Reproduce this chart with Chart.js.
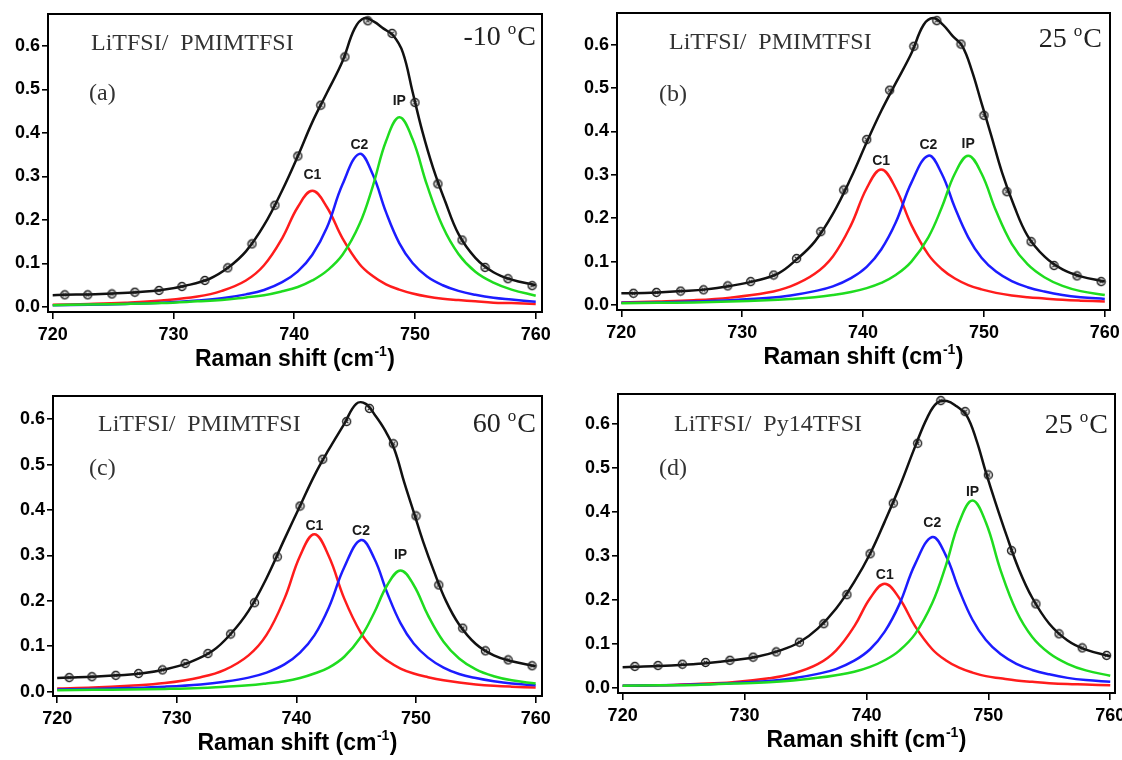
<!DOCTYPE html>
<html>
<head>
<meta charset="utf-8">
<title>Raman spectra of LiTFSI in ionic liquids</title>
<script src="https://cdn.jsdelivr.net/npm/chart.js@4.4.1/dist/chart.umd.min.js"></script>
<style>
  html, body { margin: 0; padding: 0; background: #ffffff; }
  #fig { position: relative; width: 1122px; height: 760px; overflow: hidden; background: #ffffff; }
  #fig canvas { position: absolute; }
</style>
</head>
<body>
<div id="fig">
  <canvas id="pa" width="561" height="380" style="left:0px;top:0px"></canvas>
  <canvas id="pb" width="561" height="380" style="left:561px;top:0px"></canvas>
  <canvas id="pc" width="561" height="380" style="left:0px;top:380px"></canvas>
  <canvas id="pd" width="561" height="380" style="left:561px;top:380px"></canvas>
</div>
<script>
// ---- axis ticks ----
const shiftTicks = [720, 730, 740, 750, 760];
const intensityTicks = [0, 0.1, 0.2, 0.3, 0.4, 0.5, 0.6];

// ---- Raman shift grids (cm-1) ----
const bandShift = [720, 723, 726, 729, 732, 734, 736, 737.5, 739, 740.3, 741.5, 742.7, 744, 745.4,
                   746.5, 747.6, 748.7, 749.8, 751, 752.3, 753.6, 755, 756.5, 758, 760];
const fitShift = [720, 721, 723, 725, 727, 729, 731, 733, 734.5, 736, 737.5, 739, 740.3, 741.5, 742.7,
                  744, 745, 745.8, 746.6, 747.4, 748.2, 749, 749.8, 750.6, 751.5, 752.5, 753.6, 755,
                  756.5, 758, 760];
const measuredShift = [721.0, 722.9, 724.9, 726.8, 728.8, 730.7, 732.6, 734.5, 736.5, 738.4, 740.3,
                       742.2, 744.2, 746.1, 748.1, 750.0, 751.9, 753.9, 755.8, 757.7, 759.7];

// ---- (a) LiTFSI/PMIMTFSI, -10 C ----
const c1A = [0.005, 0.007, 0.010, 0.015, 0.024, 0.037, 0.061, 0.096, 0.158, 0.230, 0.267, 0.230, 0.158,
             0.099, 0.071, 0.052, 0.040, 0.031, 0.024, 0.019, 0.016, 0.013, 0.010, 0.009, 0.007];
const c2A = [0.004, 0.005, 0.007, 0.010, 0.015, 0.020, 0.029, 0.039, 0.057, 0.082, 0.120, 0.182, 0.282,
             0.352, 0.305, 0.218, 0.147, 0.101, 0.070, 0.050, 0.037, 0.028, 0.021, 0.017, 0.012];
const ipA = [0.004, 0.006, 0.007, 0.009, 0.013, 0.016, 0.022, 0.027, 0.036, 0.046, 0.061, 0.083, 0.120,
             0.190, 0.277, 0.381, 0.436, 0.386, 0.280, 0.185, 0.122, 0.081, 0.056, 0.040, 0.026];
const fitA = [0.027, 0.028, 0.029, 0.031, 0.034, 0.039, 0.049, 0.065, 0.090, 0.128, 0.188, 0.268, 0.347,
              0.425, 0.492, 0.565, 0.640, 0.664, 0.656, 0.640, 0.624, 0.585, 0.495, 0.405, 0.320, 0.243,
              0.168, 0.113, 0.080, 0.063, 0.050];
const measA = [0.028, 0.028, 0.030, 0.034, 0.038, 0.047, 0.061, 0.090, 0.145, 0.234, 0.347, 0.464, 0.575,
               0.658, 0.629, 0.470, 0.283, 0.154, 0.091, 0.065, 0.049];

// ---- (b) LiTFSI/PMIMTFSI, 25 C ----
const c1B = [0.006, 0.008, 0.011, 0.017, 0.028, 0.043, 0.072, 0.112, 0.184, 0.269, 0.312, 0.269, 0.184,
             0.116, 0.083, 0.061, 0.046, 0.036, 0.028, 0.022, 0.018, 0.015, 0.012, 0.010, 0.008];
const c2B = [0.005, 0.006, 0.008, 0.011, 0.016, 0.022, 0.032, 0.043, 0.062, 0.088, 0.128, 0.190, 0.282,
             0.344, 0.303, 0.224, 0.156, 0.109, 0.077, 0.055, 0.041, 0.031, 0.023, 0.018, 0.014];
const ipB = [0.004, 0.005, 0.006, 0.008, 0.011, 0.014, 0.018, 0.023, 0.030, 0.039, 0.051, 0.069, 0.100,
             0.156, 0.224, 0.303, 0.344, 0.303, 0.217, 0.141, 0.094, 0.064, 0.044, 0.032, 0.023];
const fitB = [0.027, 0.027, 0.029, 0.032, 0.036, 0.044, 0.055, 0.073, 0.105, 0.146, 0.210, 0.293, 0.375,
              0.447, 0.511, 0.580, 0.645, 0.661, 0.646, 0.620, 0.597, 0.540, 0.465, 0.391, 0.305, 0.228,
              0.160, 0.112, 0.082, 0.066, 0.054];
const measB = [0.027, 0.029, 0.032, 0.035, 0.044, 0.054, 0.069, 0.107, 0.169, 0.265, 0.381, 0.495, 0.596,
               0.655, 0.601, 0.437, 0.261, 0.146, 0.091, 0.067, 0.054];

// ---- (c) LiTFSI/PMIMTFSI, 60 C ----
const c1C = [0.007, 0.009, 0.013, 0.019, 0.032, 0.048, 0.080, 0.125, 0.205, 0.299, 0.347, 0.299, 0.205,
             0.129, 0.092, 0.068, 0.051, 0.040, 0.032, 0.025, 0.020, 0.016, 0.013, 0.011, 0.009];
const c2C = [0.005, 0.006, 0.008, 0.011, 0.016, 0.022, 0.031, 0.042, 0.060, 0.086, 0.124, 0.185, 0.274,
             0.334, 0.294, 0.217, 0.151, 0.106, 0.075, 0.053, 0.039, 0.030, 0.023, 0.018, 0.014];
const ipC = [0.003, 0.004, 0.005, 0.006, 0.008, 0.011, 0.014, 0.018, 0.023, 0.030, 0.040, 0.053, 0.077,
             0.121, 0.174, 0.235, 0.267, 0.235, 0.168, 0.110, 0.073, 0.049, 0.034, 0.025, 0.018];
const fitC = [0.030, 0.031, 0.033, 0.036, 0.040, 0.049, 0.064, 0.090, 0.127, 0.178, 0.250, 0.336, 0.409,
              0.476, 0.533, 0.590, 0.634, 0.634, 0.608, 0.576, 0.533, 0.462, 0.396, 0.330, 0.265, 0.200,
              0.148, 0.105, 0.080, 0.067, 0.056];
const measC = [0.031, 0.033, 0.036, 0.040, 0.048, 0.062, 0.084, 0.127, 0.196, 0.297, 0.409, 0.512, 0.595,
               0.624, 0.546, 0.387, 0.235, 0.140, 0.090, 0.070, 0.057];

// ---- (d) LiTFSI/Py14TFSI, 25 C ----
const c1D = [0.005, 0.006, 0.009, 0.013, 0.022, 0.033, 0.054, 0.085, 0.140, 0.204, 0.237, 0.204, 0.140,
             0.088, 0.063, 0.046, 0.035, 0.027, 0.022, 0.017, 0.014, 0.011, 0.009, 0.008, 0.006];
const c2D = [0.005, 0.006, 0.008, 0.011, 0.016, 0.022, 0.032, 0.043, 0.062, 0.088, 0.128, 0.190, 0.282,
             0.343, 0.302, 0.223, 0.155, 0.109, 0.077, 0.055, 0.041, 0.031, 0.023, 0.018, 0.014];
const ipD = [0.005, 0.006, 0.007, 0.010, 0.013, 0.017, 0.023, 0.029, 0.037, 0.048, 0.063, 0.085, 0.123,
             0.193, 0.277, 0.376, 0.426, 0.376, 0.268, 0.175, 0.116, 0.079, 0.055, 0.040, 0.028];
const fitD = [0.047, 0.048, 0.050, 0.053, 0.057, 0.063, 0.071, 0.086, 0.104, 0.135, 0.180, 0.241, 0.305,
              0.378, 0.456, 0.549, 0.615, 0.648, 0.652, 0.640, 0.620, 0.565, 0.490, 0.420, 0.346, 0.270,
              0.205, 0.146, 0.108, 0.087, 0.072];
const measD = [0.049, 0.051, 0.054, 0.058, 0.063, 0.070, 0.082, 0.104, 0.146, 0.212, 0.305, 0.420, 0.556,
               0.653, 0.628, 0.484, 0.312, 0.191, 0.123, 0.091, 0.074];

const bandNames = ['C1', 'C2', 'IP'];

// ---- panel layout and annotation styles (canvas pixels) ----
const panels = [
  { canvas: 'pa', salt: 'LiTFSI/  PMIMTFSI', tag: '(a)', temp: '-10 ',
    bands: [c1A, c2A, ipA], fit: fitA, meas: measA,
    area: { left: 48, top: 14, right: 542, bottom: 312 },
    xRange: [719.61, 760.52], yRange: [-0.0115, 0.6736],
    saltAt: [91, 50], tagAt: [89, 100], tempRight: 536, tempBase: 45,
    lift: [16, 9, 16], captionY: 360 },
  { canvas: 'pb', salt: 'LiTFSI/  PMIMTFSI', tag: '(b)', temp: '25 ',
    bands: [c1B, c2B, ipB], fit: fitB, meas: measB,
    area: { left: 56, top: 13, right: 549, bottom: 310 },
    xRange: [719.64, 760.43], yRange: [-0.0115, 0.6727],
    saltAt: [108, 49], tagAt: [98, 101], tempRight: 541, tempBase: 47,
    lift: [8, 11, 12], captionY: 358 },
  { canvas: 'pc', salt: 'LiTFSI/  PMIMTFSI', tag: '(c)', temp: '60 ',
    bands: [c1C, c2C, ipC], fit: fitC, meas: measC,
    area: { left: 53, top: 16, right: 542, bottom: 316 },
    xRange: [719.65, 760.53], yRange: [-0.0095, 0.6513],
    saltAt: [98, 51], tagAt: [89, 95], tempRight: 536, tempBase: 52,
    lift: [8, 9, 15], captionY: 364 },
  { canvas: 'pd', salt: 'LiTFSI/  Py14TFSI', tag: '(d)', temp: '25 ',
    bands: [c1D, c2D, ipD], fit: fitD, meas: measD,
    area: { left: 57, top: 14, right: 554, bottom: 313 },
    xRange: [719.62, 760.39], yRange: [-0.0114, 0.668],
    saltAt: [113, 51], tagAt: [98, 95], tempRight: 547, tempBase: 53,
    lift: [9, 14, 8], captionY: 361 }
];

const bandColors = ['#ff1c1c', '#1c1cff', '#1fdc1f'];
const SANS = "'Liberation Sans', Arial, sans-serif";
const SERIF = "'Liberation Serif', 'Times New Roman', serif";

// open circle with a cross, used for the measured spectrum
function measuredGlyph() {
  const c = document.createElement('canvas');
  c.width = 11; c.height = 11;
  const g = c.getContext('2d');
  g.strokeStyle = '#1e1e1e';
  g.lineWidth = 1.4;
  g.beginPath(); g.arc(5.5, 5.5, 4, 0, Math.PI * 2); g.stroke();
  g.lineWidth = 1.1;
  g.beginPath();
  g.moveTo(3.6, 3.6); g.lineTo(7.4, 7.4);
  g.moveTo(7.4, 3.6); g.lineTo(3.6, 7.4);
  g.stroke();
  return c;
}
const glyph = measuredGlyph();

const pairs = (xs, ys) => xs.map((x, i) => ({ x: x, y: ys[i] }));

// closed frame around the plotting area
const framePlugin = {
  id: 'frame',
  afterDatasetsDraw(chart) {
    const a = chart.chartArea, ctx = chart.ctx;
    ctx.save();
    ctx.strokeStyle = '#000';
    ctx.lineWidth = 2;
    ctx.strokeRect(a.left, a.top, a.right - a.left, a.bottom - a.top);
    ctx.restore();
  }
};

// sample labels, band names and axis caption
const textPlugin = {
  id: 'panelText',
  afterDraw(chart) {
    const p = chart.options.plugins.panelText.panel;
    const ctx = chart.ctx, a = chart.chartArea;
    const xs = chart.scales.x, ys = chart.scales.y;
    ctx.save();

    ctx.fillStyle = '#333';
    ctx.textBaseline = 'alphabetic';
    ctx.textAlign = 'left';
    ctx.font = '24px ' + SERIF;
    ctx.fillText(p.salt, p.saltAt[0], p.saltAt[1]);
    ctx.fillText(p.tag, p.tagAt[0], p.tagAt[1]);

    // temperature with raised degree mark
    ctx.fillStyle = '#222';
    const big = '28px ' + SERIF, small = '17px ' + SERIF;
    ctx.font = big;
    const wMain = ctx.measureText(p.temp).width;
    const wC = ctx.measureText('C').width;
    ctx.font = small;
    const wO = ctx.measureText('o').width;
    let x0 = p.tempRight - (wMain + wO + wC + 1);
    ctx.font = big;
    ctx.fillText(p.temp, x0, p.tempBase);
    ctx.font = small;
    ctx.fillText('o', x0 + wMain, p.tempBase - 11);
    ctx.font = big;
    ctx.fillText('C', x0 + wMain + wO + 1, p.tempBase);

    // band labels above each component maximum
    ctx.fillStyle = '#1a1a1a';
    ctx.font = 'bold 14px ' + SANS;
    ctx.textAlign = 'center';
    ctx.textBaseline = 'middle';
    p.bands.forEach((vals, k) => {
      let im = 0;
      vals.forEach((v, i) => { if (v > vals[im]) im = i; });
      const px = xs.getPixelForValue(bandShift[im]);
      const py = ys.getPixelForValue(vals[im]) - p.lift[k];
      ctx.fillText(bandNames[k], px, py);
    });

    // x-axis caption with superscript
    const capBig = 'bold 23px ' + SANS, capSmall = 'bold 14px ' + SANS;
    const s1 = 'Raman shift (cm', s2 = '-1', s3 = ')';
    ctx.font = capBig;
    const w1 = ctx.measureText(s1).width, w3 = ctx.measureText(s3).width;
    ctx.font = capSmall;
    const w2 = ctx.measureText(s2).width;
    const cx = (a.left + a.right) / 2;
    let sx = cx - (w1 + w2 + w3 + 1) / 2;
    ctx.fillStyle = '#000';
    ctx.textAlign = 'left';
    ctx.textBaseline = 'middle';
    ctx.font = capBig;
    ctx.fillText(s1, sx, p.captionY);
    ctx.font = capSmall;
    ctx.fillText(s2, sx + w1 + 0.5, p.captionY - 8);
    ctx.font = capBig;
    ctx.fillText(s3, sx + w1 + w2 + 1, p.captionY);
    ctx.restore();
  }
};

panels.forEach(p => {
  const cv = document.getElementById(p.canvas);
  const W = cv.width, H = cv.height;
  const datasets = [
    { data: pairs(measuredShift, p.meas), showLine: false, pointStyle: glyph, pointRadius: 4,
      pointHoverRadius: 4 },
    { data: pairs(fitShift, p.fit), borderColor: '#111111', borderWidth: 2.5, pointRadius: 0,
      tension: 0.4, fill: false }
  ];
  [2, 1, 0].forEach(k => {
    datasets.push({ data: pairs(bandShift, p.bands[k]), borderColor: bandColors[k], borderWidth: 2.5,
      pointRadius: 0, tension: 0.4, fill: false });
  });

  new Chart(cv, {
    type: 'line',
    data: { datasets: datasets },
    options: {
      responsive: false,
      animation: false,
      events: [],
      layout: { padding: { left: 0, top: p.area.top, right: W - p.area.right, bottom: 0 } },
      plugins: {
        legend: { display: false },
        tooltip: { enabled: false },
        panelText: { panel: p }
      },
      scales: {
        x: {
          type: 'linear',
          min: p.xRange[0], max: p.xRange[1],
          afterBuildTicks: s => { s.ticks = shiftTicks.map(v => ({ value: v })); },
          afterFit: s => { s.height = H - p.area.bottom; s.paddingLeft = 0; s.paddingRight = 0; },
          ticks: { color: '#000', font: { family: SANS, size: 18, weight: 'bold' }, padding: 5,
                   maxRotation: 0, autoSkip: false },
          grid: { display: true, drawOnChartArea: false, drawTicks: true, tickLength: 7,
                  color: '#000', lineWidth: 1.6 },
          border: { display: false }
        },
        y: {
          type: 'linear',
          min: p.yRange[0], max: p.yRange[1],
          afterBuildTicks: s => { s.ticks = intensityTicks.map(v => ({ value: v })); },
          afterFit: s => { s.width = p.area.left; s.paddingTop = 0; s.paddingBottom = 0; },
          ticks: { color: '#000', font: { family: SANS, size: 18, weight: 'bold' }, padding: 2,
                   autoSkip: false, callback: v => Number(v).toFixed(1) },
          grid: { display: true, drawOnChartArea: false, drawTicks: true, tickLength: 6,
                  color: '#000', lineWidth: 1.6 },
          border: { display: false }
        }
      }
    },
    plugins: [framePlugin, textPlugin]
  });
});
</script>
</body>
</html>
